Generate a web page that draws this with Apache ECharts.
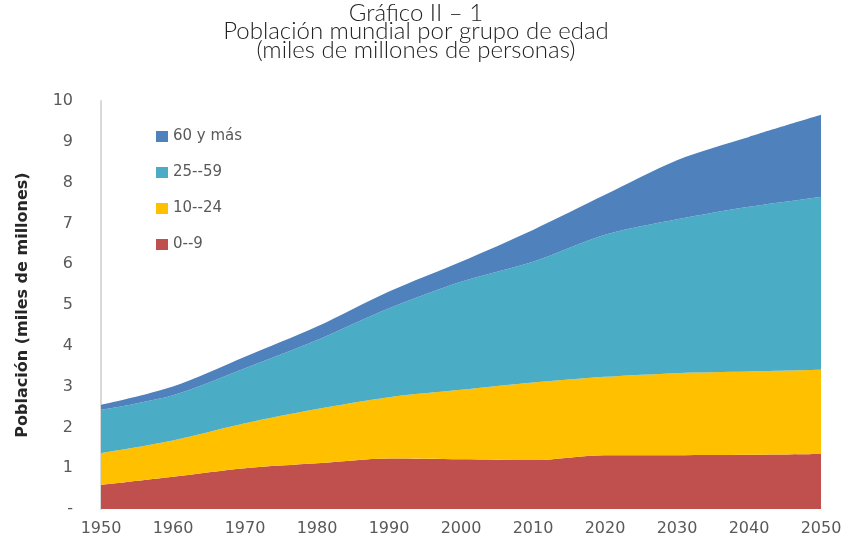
<!DOCTYPE html>
<html>
<head>
<meta charset="utf-8">
<script src="https://cdn.jsdelivr.net/npm/echarts@6/dist/echarts.min.js"></script>
<style>
  html, body { margin: 0; padding: 0; background: #fff; }
  #chart { width: 850px; height: 546px; }
</style>
</head>
<body>
<div id="chart"></div>
<script>
// years on the x axis
const years = ['1950', '1960', '1970', '1980', '1990', '2000', '2010', '2020', '2030', '2040', '2050']
// population by age group, miles de millones (stacked, bottom to top)
const age0to9 = [0.59, 0.79, 1.0, 1.12, 1.24, 1.22, 1.2, 1.32, 1.32, 1.33, 1.35]
const age10to24 = [0.78, 0.89, 1.1, 1.33, 1.5, 1.7, 1.9, 1.92, 2.01, 2.04, 2.06]
const age25to59 = [1.06, 1.11, 1.35, 1.69, 2.18, 2.65, 2.96, 3.48, 3.77, 4.04, 4.24]
const age60plus = [0.12, 0.21, 0.28, 0.33, 0.41, 0.49, 0.78, 0.98, 1.45, 1.71, 2.01]

const groupNames = ['0--9', '10--24', '25--59', '60 y más']
const groupColors = ['#C0504D', '#FFC000', '#4BACC6', '#4F81BD']
const groupValues = [age0to9, age10to24, age25to59, age60plus]

const chartInstance = echarts.init(document.getElementById('chart'), null, { renderer: 'canvas' })

const series = groupNames.map((name, i) => ({
  name: name,
  type: 'line',
  stack: 'total',
  smooth: 0.3,
  showSymbol: false,
  lineStyle: { width: 0 },
  areaStyle: { color: groupColors[i], opacity: 1 },
  itemStyle: { color: groupColors[i] },
  data: groupValues[i],
}))

const option = {
  animation: false,
  title: {
    text: 'Gráfico II – 1\nPoblación mundial por grupo de edad\n(miles de millones de personas)',
    left: 411,
    top: -1,
    textAlign: 'center',
    textStyle: {
      fontFamily: 'Lato',
      fontWeight: 300,
      fontSize: 24,
      lineHeight: 18.5,
      color: '#222',
    },
  },
  legend: {
    data: ['60 y más', '25--59', '10--24', '0--9'],
    orient: 'vertical',
    left: 151,
    top: 124,
    itemGap: 21,
    itemWidth: 12,
    itemHeight: 11,
    icon: 'rect',
    textStyle: { fontFamily: 'DejaVu Sans', fontSize: 15, color: '#595959' },
  },
  grid: {
    left: 101,
    right: 29,
    top: 101,
    bottom: 37,
    containLabel: false,
  },
  xAxis: {
    type: 'category',
    boundaryGap: false,
    data: years,
    axisLine: { show: false },
    axisTick: { show: false },
    splitLine: { show: false },
    axisLabel: {
      margin: 12,
      fontFamily: 'DejaVu Sans',
      fontSize: 16,
      color: '#595959',
    },
  },
  yAxis: {
    type: 'value',
    min: 0,
    max: 10,
    interval: 1,
    name: 'Población (miles de millones)',
    nameLocation: 'middle',
    nameGap: 70,
    nameTextStyle: {
      fontFamily: 'DejaVu Sans',
      fontWeight: 'bold',
      fontSize: 16,
      color: '#262626',
    },
    axisLine: { show: true, lineStyle: { color: '#d9d9d9', width: 2 } },
    axisTick: { show: false },
    splitLine: { show: false },
    axisLabel: {
      margin: 28,
      fontFamily: 'DejaVu Sans',
      fontSize: 16,
      color: '#595959',
      formatter: (v) => (v === 0 ? '-' : v),
    },
  },
  series: series,
}

chartInstance.setOption(option)
</script>
</body>
</html>
